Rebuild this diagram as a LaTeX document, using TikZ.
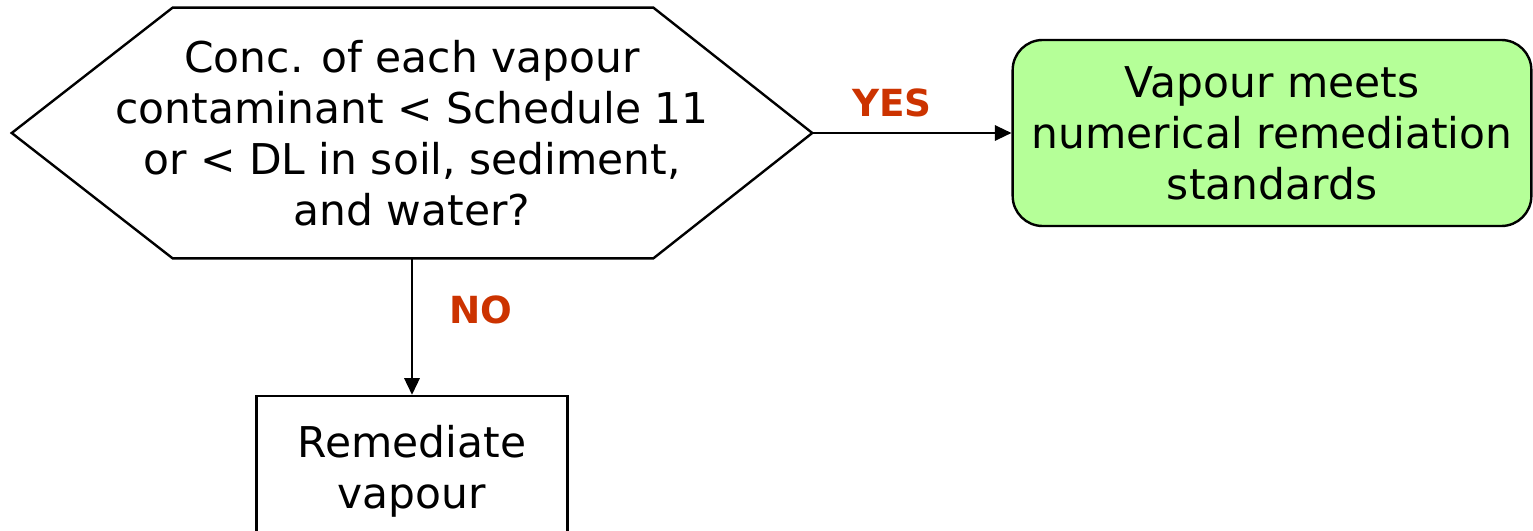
\documentclass[tikz,border=0pt]{standalone}
\usepackage{fontspec}
\setmainfont{DejaVu Sans}
\usetikzlibrary{arrows.meta}
\definecolor{boxgreen}{HTML}{B5FF98}
\definecolor{lblred}{HTML}{CC3300}
\begin{document}
\begin{tikzpicture}[x=0.75pt,y=-0.75pt,
  every node/.style={inner sep=0pt},
  txt/.style={align=center, font=\fontsize{31.8}{38.25}\selectfont},
  lbl/.style={font=\fontsize{28}{32}\selectfont\bfseries, text=lblred},
  shapeline/.style={line width=1.8pt},
  arrow/.style={line width=1.7pt, -{Triangle[length=12.5pt,width=11.5pt]}}]
\useasboundingbox (0,0) rectangle (1533,531);
% decision (hexagon)
\node[txt, minimum width=600pt, minimum height=187.75pt] (q) at (412,133)
  {Conc. of each vapour\\contaminant < Schedule 11\\or < DL in soil, sediment,\\and water?};
\draw[shapeline, line join=miter] (q.west) -- ([xshift=120.75pt]q.north west)
  -- ([xshift=-119.25pt]q.north east) -- (q.east)
  -- ([xshift=-119.25pt]q.south east) -- ([xshift=120.75pt]q.south west) -- cycle;
% yes outcome
\node[txt, shapeline, draw, fill=boxgreen, rounded corners=22.5pt,
  minimum width=389pt, minimum height=139.5pt] (g) at (1272,133)
  {Vapour meets\\numerical remediation\\standards};
% no outcome
\node[txt, shapeline, draw, minimum width=233.25pt, minimum height=112.5pt] (r) at (412,471)
  {Remediate\\vapour};
% connectors
\draw[arrow] (q.east) -- node[lbl, pos=0.4, above=11.4pt] (yes) {YES} (g.west);
\draw[arrow] (q.south) -- node[lbl, pos=0.377, right=27pt] (no) {NO} (r.north);
\end{tikzpicture}
\end{document}
